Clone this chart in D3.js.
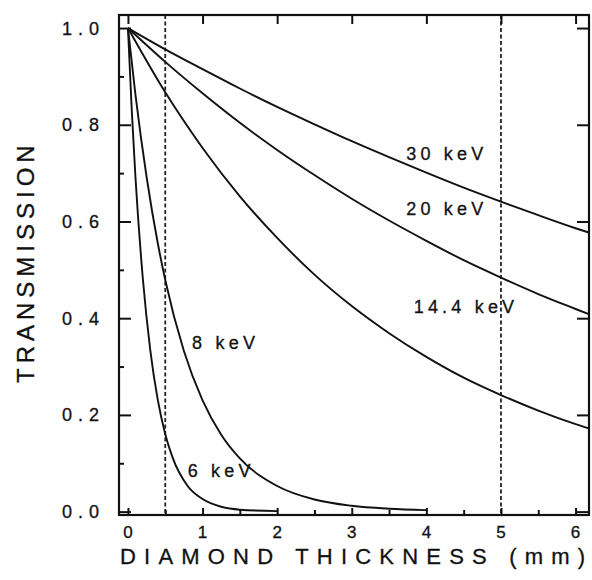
<!DOCTYPE html>
<html>
<head>
<meta charset="utf-8">
<script src="https://cdn.jsdelivr.net/npm/d3@7"></script>
<style>
  html, body { margin: 0; padding: 0; background: #fff; }
  svg { display: block; }
  text { font-family: "Liberation Sans", Arial, sans-serif; fill: #111; stroke: #111; stroke-width: 0.3; }
</style>
</head>
<body>
<svg id="chart" width="592" height="580"></svg>
<script>
// Thickness (mm) sample points and transmission for each photon energy
const thickHigh = [0, 0.5, 1, 1.5, 2, 2.5, 3, 3.5, 4, 4.5, 5, 5.5, 6, 6.18];
const trans30 = [1, 0.956, 0.915, 0.875, 0.837, 0.801, 0.766, 0.733, 0.701, 0.670, 0.641, 0.613, 0.586, 0.577];
const trans20 = [1, 0.930, 0.865, 0.804, 0.748, 0.696, 0.647, 0.602, 0.560, 0.520, 0.484, 0.450, 0.419, 0.408];
const trans144 = [1, 0.867, 0.752, 0.652, 0.566, 0.490, 0.425, 0.369, 0.320, 0.277, 0.241, 0.209, 0.181, 0.172];

const thick8 = [0, 0.1, 0.25, 0.4, 0.5, 0.75, 1, 1.25, 1.5, 2, 2.5, 3, 3.5, 4];
const trans8 = [1, 0.863, 0.692, 0.555, 0.479, 0.332, 0.230, 0.159, 0.110, 0.053, 0.025, 0.012, 0.006, 0.003];

const thick6 = [0, 0.05, 0.1, 0.2, 0.3, 0.4, 0.5, 0.6, 0.8, 1, 1.25, 1.5, 2];
const trans6 = [1, 0.833, 0.693, 0.481, 0.333, 0.231, 0.160, 0.111, 0.053, 0.026, 0.010, 0.004, 0.001];

const yTicks = [0, 0.2, 0.4, 0.6, 0.8, 1.0];
const yMinor = [0.1, 0.3, 0.5, 0.7, 0.9];
const xTicks = [0, 1, 2, 3, 4, 5, 6];
const xMinor = [0.5, 1.5, 2.5, 3.5, 4.5, 5.5];
const markerThickness = [0.5, 5];

const curveLabels = [
  { text: "30 keV", x: 3.73, y: 0.727 },
  { text: "20 keV", x: 3.73, y: 0.613 },
  { text: "14.4 keV", x: 3.83, y: 0.410 },
  { text: "8 keV", x: 0.86, y: 0.337 },
  { text: "6 keV", x: 0.80, y: 0.072 }
];

const svg = d3.select("#chart");
const plotLeft = 119, plotRight = 589, plotTop = 15, plotBottom = 515;

const x = d3.scaleLinear().domain([-0.12, 6.18]).range([plotLeft, plotRight]);
const y = d3.scaleLinear().domain([-0.007, 1.027]).range([plotBottom, plotTop]);

const series = [
  { xs: thickHigh, ys: trans30 },
  { xs: thickHigh, ys: trans20 },
  { xs: thickHigh, ys: trans144 },
  { xs: thick8, ys: trans8 },
  { xs: thick6, ys: trans6 }
];

// Dashed reference thicknesses
svg.selectAll("line.marker").data(markerThickness).enter().append("line")
  .attr("x1", d => x(d)).attr("x2", d => x(d))
  .attr("y1", plotTop).attr("y2", plotBottom)
  .attr("stroke", "#222").attr("stroke-width", 1.8)
  .attr("stroke-dasharray", "4,2.5");

// Transmission curves
const line = d3.line()
  .x(d => x(d[0])).y(d => y(d[1]))
  .curve(d3.curveMonotoneX);

series.forEach(s => {
  svg.append("path")
    .datum(s.xs.map((t, i) => [t, s.ys[i]]))
    .attr("d", line)
    .attr("fill", "none")
    .attr("stroke", "#111")
    .attr("stroke-width", 1.9);
});

// Axes: ticks drawn inward on all sides
svg.append("g").attr("transform", `translate(${plotLeft},0)`)
  .call(d3.axisRight(y).tickValues(yTicks).tickSize(12).tickFormat(""));
svg.append("g").attr("transform", `translate(${plotLeft},0)`)
  .call(d3.axisRight(y).tickValues(yMinor).tickSize(5).tickFormat(""));
svg.append("g").attr("transform", `translate(${plotRight},0)`)
  .call(d3.axisLeft(y).tickValues(yTicks).tickSize(12).tickFormat(""));
svg.append("g").attr("transform", `translate(0,${plotBottom})`)
  .call(d3.axisTop(x).tickValues(xTicks).tickSize(7).tickFormat(""));
svg.append("g").attr("transform", `translate(0,${plotBottom})`)
  .call(d3.axisTop(x).tickValues(xMinor).tickSize(5).tickFormat(""));
svg.append("g").attr("transform", `translate(0,${plotTop})`)
  .call(d3.axisBottom(x).tickValues(xTicks).tickSize(9).tickFormat(""));

svg.selectAll(".domain").remove();
svg.selectAll(".tick line").attr("stroke", "#111").attr("stroke-width", 2);

// Frame
svg.append("rect")
  .attr("x", plotLeft).attr("y", plotTop)
  .attr("width", plotRight - plotLeft).attr("height", plotBottom - plotTop)
  .attr("fill", "none").attr("stroke", "#111").attr("stroke-width", 2.2);

// Tick labels
svg.selectAll("text.ylab").data(yTicks).enter().append("text")
  .attr("class", "ylab")
  .attr("x", 105).attr("y", d => y(d) + 6.5)
  .attr("text-anchor", "end")
  .attr("font-size", 18).attr("letter-spacing", 6)
  .text(d => d.toFixed(1));

svg.selectAll("text.xlab").data(xTicks).enter().append("text")
  .attr("class", "xlab")
  .attr("x", d => x(d)).attr("y", 538)
  .attr("text-anchor", "middle")
  .attr("font-size", 17)
  .text(d => d);

// Axis titles
svg.append("text")
  .attr("x", 120).attr("y", 564)
  .attr("font-size", 22).attr("letter-spacing", 8.2)
  .text("DIAMOND THICKNESS (mm)");

svg.append("text")
  .attr("transform", "translate(34,383) rotate(-90)")
  .attr("font-size", 24).attr("letter-spacing", 5)
  .text("TRANSMISSION");

// Curve labels
svg.selectAll("text.clab").data(curveLabels).enter().append("text")
  .attr("class", "clab")
  .attr("x", d => x(d.x)).attr("y", d => y(d.y))
  .attr("font-size", 18).attr("letter-spacing", 4.2)
  .text(d => d.text);
</script>
</body>
</html>
